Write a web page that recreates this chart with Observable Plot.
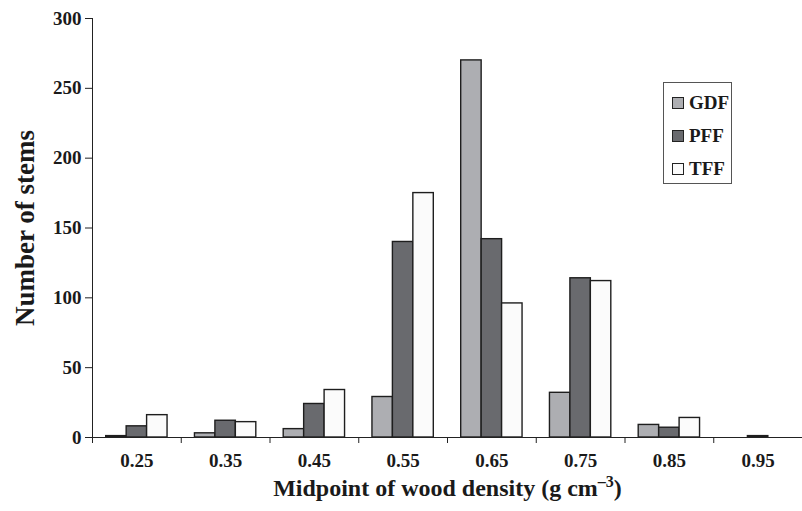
<!DOCTYPE html>
<html>
<head>
<meta charset="utf-8">
<script src="https://cdn.jsdelivr.net/npm/d3@7"></script>
<script src="https://cdn.jsdelivr.net/npm/@observablehq/plot@0.6"></script>
<style>
  html, body { margin: 0; padding: 0; background: #fff; }
  #wrap { position: relative; width: 802px; height: 511px; }
  #legend {
    position: absolute; left: 663px; top: 82px; width: 67px; height: 100px;
    border: 1px solid #555; background: #fff;
    font-family: "Liberation Serif", serif; font-weight: bold; font-size: 19px; color: #1a1a1a;
  }
  .item { position: absolute; left: 8px; display: flex; align-items: center; height: 20px; }
  .sw { width: 10px; height: 10px; border: 1.3px solid #222; margin-right: 5px; }
</style>
</head>
<body>
<div id="wrap">
  <div id="chart"></div>
  <div id="legend"></div>
</div>
<script>
// ---- data ----
const categories = ["0.25", "0.35", "0.45", "0.55", "0.65", "0.75", "0.85", "0.95"];
const midpoints = [0.25, 0.35, 0.45, 0.55, 0.65, 0.75, 0.85, 0.95];
const seriesNames = ["GDF", "PFF", "TFF"];
const gdf = [1, 3, 6, 29, 270, 32, 9, 0];
const pff = [8, 12, 24, 140, 142, 114, 7, 1];
const tff = [16, 11, 34, 175, 96, 112, 14, 0];
const yTicks = [0, 50, 100, 150, 200, 250, 300];
const colors = {GDF: "#adaeb2", PFF: "#696a6e", TFF: "#fbfbfb"};

const binWidth = 0.1;
const values = {GDF: gdf, PFF: pff, TFF: tff};
const data = [];
categories.forEach((c, i) => {
  seriesNames.forEach(s => {
    data.push({cat: c, mid: midpoints[i], series: s, value: values[s][i],
               x1: midpoints[i] - binWidth / 2, x2: midpoints[i] + binWidth / 2});
  });
});
const edges = [midpoints[0] - binWidth / 2, ...midpoints.map(m => m + binWidth / 2)];

// layout
const W = 802, H = 511, mL = 92, mR = 0, mT = 18, mB = 74;
const band = (W - mL - mR) / categories.length;
const groupPad = 13.7;
const barW = (band - 2 * groupPad) / seriesNames.length;

const barMarks = seriesNames.map((s, k) =>
  Plot.rectY(data.filter(d => d.series === s && d.value > 0), {
    x1: "x1", x2: "x2", y: "value",
    fill: colors[s], stroke: "#1e1e1e", strokeWidth: 1.4,
    insetLeft: groupPad + k * barW,
    insetRight: band - groupPad - (k + 1) * barW
  })
);

const xTitle = "Midpoint of wood density (g cm\u20133)";

const chart = Plot.plot({
  width: W, height: H,
  marginLeft: mL, marginRight: mR, marginTop: mT, marginBottom: mB,
  style: {fontFamily: "Liberation Serif, serif", fontWeight: "bold", fontSize: "19px", color: "#1a1a1a", background: "#fff"},
  x: {domain: [edges[0], edges[edges.length - 1]]},
  y: {domain: [0, 300]},
  marks: [
    ...barMarks,
    Plot.frame({anchor: "left", stroke: "#222", strokeWidth: 1}),
    Plot.frame({anchor: "bottom", stroke: "#222", strokeWidth: 1}),
    Plot.axisY({ticks: yTicks, tickSize: 7, tickPadding: 4, fontSize: 19, label: null, stroke: "#222"}),
    Plot.text(["Number of stems"], {frameAnchor: "left", dx: -67, rotate: -90, fontSize: 27, fontWeight: "bold", textAnchor: "middle"}),
    Plot.axisX({ticks: edges, tickSize: 6, tickFormat: () => "", label: null, stroke: "#222"}),
    Plot.axisX({ticks: midpoints, tickSize: 0, tickPadding: 16, tickFormat: (d, i) => categories[i], fontSize: 19, label: null}),
    Plot.text([xTitle], {frameAnchor: "bottom", dy: 58, fontSize: 24, fontWeight: "bold"})
  ]
});
document.getElementById("chart").appendChild(chart);

// superscript for the unit exponent
chart.querySelectorAll("text").forEach(t => {
  if (t.textContent === xTitle) {
    t.textContent = "";
    const ns = "http://www.w3.org/2000/svg";
    const a = document.createElementNS(ns, "tspan"); a.textContent = "Midpoint of wood density (g cm";
    const b = document.createElementNS(ns, "tspan"); b.textContent = "\u20133";
    b.setAttribute("font-size", "16"); b.setAttribute("dy", "-9");
    const c = document.createElementNS(ns, "tspan"); c.textContent = ")"; c.setAttribute("dy", "9");
    t.append(a, b, c);
  }
});

// legend
const leg = document.getElementById("legend");
seriesNames.forEach((s, k) => {
  const it = document.createElement("div");
  it.className = "item";
  it.style.top = (10 + k * 33) + "px";
  const sw = document.createElement("div");
  sw.className = "sw";
  sw.style.background = colors[s];
  const tx = document.createElement("span");
  tx.textContent = s;
  it.appendChild(sw); it.appendChild(tx);
  leg.appendChild(it);
});
</script>
</body>
</html>
